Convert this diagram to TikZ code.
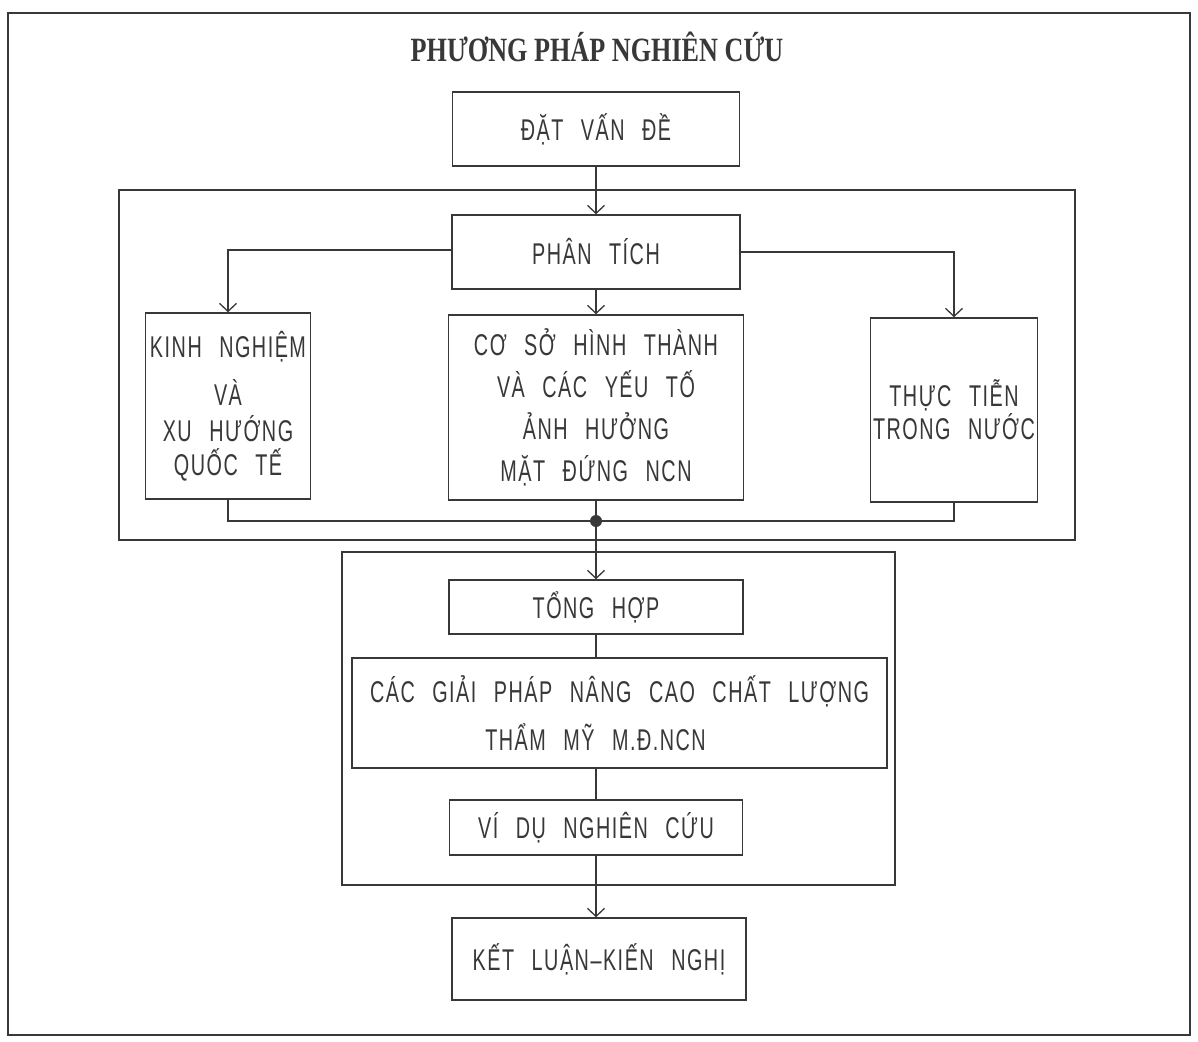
\documentclass[tikz,border=0pt]{standalone}
\usepackage{fontspec}
\usetikzlibrary{arrows.meta}
\newfontfamily\boxfont{Liberation Sans}[FakeStretch=0.66,WordSpace=2.5,LetterSpace=5]
\newfontfamily\titlefont{Liberation Serif}[FakeStretch=0.77]
\definecolor{ink}{HTML}{383838}
\begin{document}
\begin{tikzpicture}[x=1pt,y=-1pt,
  box/.style={draw=ink, line width=1.5pt, inner sep=0pt, text=ink, align=center,
    font=\boxfont\fontsize{30}{36}\selectfont},
  grp/.style={draw=ink, line width=1.5pt},
  conn/.style={draw=ink, line width=1.3pt},
  arr/.style={conn, -{Straight Barb[length=8pt,width=17pt,line width=1.3pt]}}]
\fill[white] (0,0) rectangle (1198,1041);
\useasboundingbox (0,0) rectangle (1198,1041);
% outer frame
\draw[grp, line width=2pt] (8,13) rectangle (1190,1035);
% title
\node[text=ink, font=\titlefont\bfseries\fontsize{34}{40}\selectfont] (title) at (597,47) {PHƯƠNG PHÁP NGHIÊN CỨU};
% group frames
\draw[grp] (119,190) rectangle (1075,540);
\draw[grp] (342,552) rectangle (895,885);
% boxes
\node[box, minimum width=287pt, minimum height=74pt] (dat) at (596,129) {ĐẶT VẤN ĐỀ};
\node[box, minimum width=288pt, minimum height=74pt] (phan) at (596,252) {PHÂN TÍCH};
\node[box, minimum width=165pt, minimum height=186pt] (kinh) at (228,406) {KINH NGHIỆM\\[12pt]VÀ\\XU HƯỚNG\\[-2pt]QUỐC TẾ};
\node[box, minimum width=295pt, minimum height=185pt] (coso) at (596,407.5) {CƠ SỞ HÌNH THÀNH\\[6pt]VÀ CÁC YẾU TỐ\\[6pt]ẢNH HƯỞNG\\[6pt]MẶT ĐỨNG NCN};
\node[box, minimum width=167pt, minimum height=184pt] (thuc) at (954,410) {THỰC TIỄN\\[-3pt]TRONG NƯỚC};
\node[box, minimum width=294pt, minimum height=54pt] (tong) at (596,607) {TỔNG HỢP};
\node[box, minimum width=535pt, minimum height=110pt] (giai) at (619.5,713) {CÁC GIẢI PHÁP NÂNG CAO CHẤT LƯỢNG\\[12pt]THẨM MỸ M.Đ.NCN\hspace*{48pt}};
\node[box, minimum width=293pt, minimum height=55pt] (vidu) at (596,827.5) {VÍ DỤ NGHIÊN CỨU};
\node[box, minimum width=294pt, minimum height=82pt] (ket) at (599,959) {KẾT LUẬN–KIẾN NGHỊ};
% junction
\coordinate (j) at (596,521);
% connectors
\draw[arr] (dat.south) -- (phan.north);
\draw[arr] ([yshift=2pt]phan.west) -| (kinh.north);
\draw[arr] (phan.east) -| (thuc.north);
\draw[arr] (phan.south) -- (coso.north);
\draw[conn] (kinh.south) |- (j) -| (thuc.south);
\draw[conn] (coso.south) -- (j);
\fill[ink] (j) circle (6pt);
\draw[arr] (j) -- (tong.north);
\draw[conn] (tong.south) -- (tong.south |- giai.north);
\draw[conn] (vidu.north |- giai.south) -- (vidu.north);
\draw[arr] (vidu.south) -- (ket.north -| vidu.south);
\end{tikzpicture}
\end{document}
